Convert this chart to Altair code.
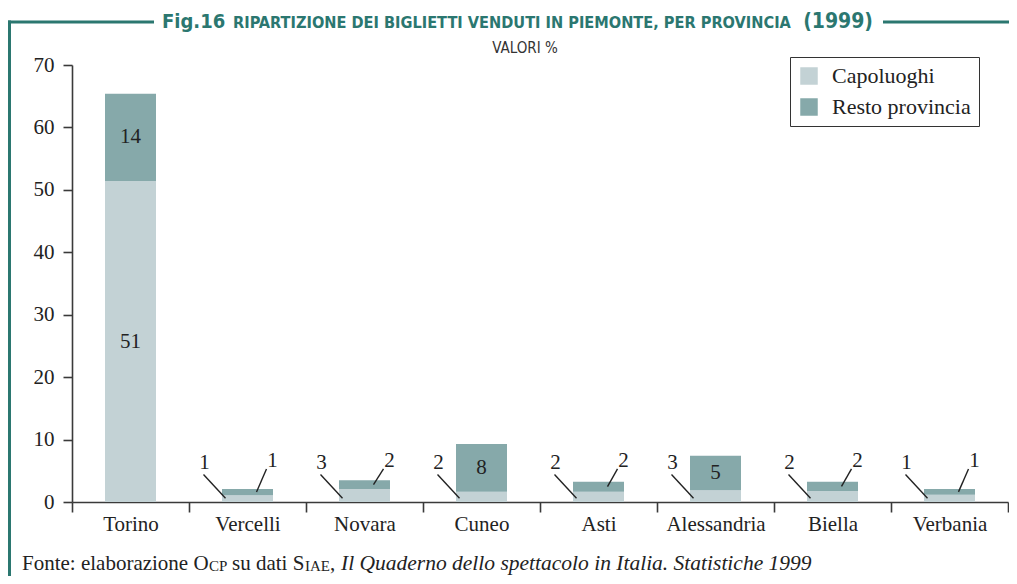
import json
import altair as alt
import pandas as pd

# ---- data ----
provinces = ["Torino", "Vercelli", "Novara", "Cuneo", "Asti", "Alessandria", "Biella", "Verbania"]
capoluoghi = [51.4, 1.1, 2.1, 1.65, 1.65, 1.9, 1.75, 1.15]
resto = [14.0, 1.0, 1.4, 7.65, 1.6, 5.5, 1.5, 0.95]
label_capoluoghi = ["51", "1", "3", "2", "2", "3", "2", "1"]
label_resto = ["14", "1", "2", "8", "2", "5", "2", "1"]
series = ["Capoluoghi", "Resto provincia"]
colors = ["#c3d2d5", "#86a9aa"]
y_ticks = [0, 10, 20, 30, 40, 50, 60, 70]

SERIF = "Liberation Serif, Times New Roman, serif"
COND = "DejaVu Sans Condensed, sans-serif"
TEAL = "#2b7770"
INK = "#222222"

W, H = 936, 437

rows = []
for i, p in enumerate(provinces):
    c, r = capoluoghi[i], resto[i]
    rows.append(dict(prov=p, pos=i + 0.5, serie=series[0], y0=0.0, y1=c,
                     mid=c / 2, label=label_capoluoghi[i], v=c))
    rows.append(dict(prov=p, pos=i + 0.5, serie=series[1], y0=c, y1=c + r,
                     mid=c + r / 2, label=label_resto[i], v=r))
df = pd.DataFrame(rows)

x_scale = alt.Scale(domain=[0, len(provinces)], nice=False, zero=False, padding=0)
y_scale = alt.Scale(domain=[0, 70], nice=False)

x_axis = alt.Axis(
    values=list(range(len(provinces) + 1)),
    labelExpr=json.dumps(provinces) + "[datum.value] || ''",
    labelOffset=W / len(provinces) / 2,
    labelFlush=False, labelOverlap=False, labelBound=False,
    tickSize=10, labelPadding=1, grid=False, title=None,
)
y_axis = alt.Axis(values=y_ticks, tickSize=9, labelPadding=9, grid=False, title=None)

base = alt.Chart(df)

bars = base.mark_bar(size=51).encode(
    x=alt.X("pos:Q", scale=x_scale, axis=x_axis),
    y=alt.Y("y1:Q", scale=y_scale, axis=y_axis),
    y2="y0:Q",
    color=alt.Color(
        "serie:N",
        scale=alt.Scale(domain=series, range=colors),
        legend=alt.Legend(
            orient="none", legendX=718, legendY=-8, title=None,
            strokeColor="#333333", fillColor="white", padding=8,
            symbolType="square", symbolSize=306, symbolStrokeWidth=0,
            symbolOpacity=1, labelFont=SERIF, labelFontSize=22,
            labelColor=INK, labelOffset=12, rowPadding=9, labelLimit=300,
        ),
    ),
)

txt = dict(font=SERIF, fontSize=21, color=INK)

inside = base.transform_filter("datum.v > 4").mark_text(**txt).encode(
    x="pos:Q", y="mid:Q", text="label:N")

left_sel = "datum.v <= 4 && datum.serie == 'Capoluoghi'"
right_sel = "datum.v <= 4 && datum.serie == 'Resto provincia'"

left = base.transform_filter(left_sel).transform_calculate(
    ly="6.3", la="4.4", lb="0.6")
left_lab = left.mark_text(dx=-43, **txt).encode(
    x="pos:Q", y="ly:Q", text="label:N")
left_line = left.mark_rule(
    xOffset=-44, x2Offset=-22, strokeWidth=1.4, color=INK).encode(
    x="pos:Q", x2="pos:Q", y="la:Q", y2="lb:Q")

right = base.transform_filter(right_sel).transform_calculate(
    ly="6.5", la="5.3")
right_lab = right.mark_text(dx=25, **txt).encode(
    x="pos:Q", y="ly:Q", text="label:N")
right_line = right.mark_rule(
    xOffset=19, x2Offset=9, strokeWidth=1.4, color=INK).encode(
    x="pos:Q", x2="pos:Q", y="la:Q", y2="mid:Q")

# ---- decorations: frame, titles, footer (pixel positions in plot coords) ----
one = pd.DataFrame({"a": [0]})
deco = alt.Chart(one)

LINE_Y = -43
frame_v = deco.mark_rule(color=TEAL, strokeWidth=3).encode(
    x=alt.value(-62.5), y=alt.value(LINE_Y - 1.5), y2=alt.value(530))
frame_l = deco.mark_rule(color=TEAL, strokeWidth=3).encode(
    x=alt.value(-64), x2=alt.value(82), y=alt.value(LINE_Y))
frame_r = deco.mark_rule(color=TEAL, strokeWidth=3).encode(
    x=alt.value(811), x2=alt.value(945), y=alt.value(LINE_Y))

TB = -37  # title baseline
t_fig = deco.mark_text(font=COND, fontSize=20, fontWeight="bold", color=TEAL,
                       align="left", baseline="alphabetic").encode(
    x=alt.value(90), y=alt.value(TB), text=alt.value("Fig.16"))
t_main = deco.mark_text(font=COND, fontSize=16.2, fontWeight="bold", color=TEAL,
                        align="left", baseline="alphabetic").encode(
    x=alt.value(161), y=alt.value(TB),
    text=alt.value("RIPARTIZIONE DEI BIGLIETTI VENDUTI IN PIEMONTE, PER PROVINCIA"))
t_year = deco.mark_text(font=COND, fontSize=21, fontWeight="bold", color=TEAL,
                        align="right", baseline="alphabetic").encode(
    x=alt.value(801), y=alt.value(TB), text=alt.value("(1999)"))
t_sub = deco.mark_text(font=COND, fontSize=15, color="#333333",
                       align="center", baseline="middle").encode(
    x=alt.value(453), y=alt.value(-17), text=alt.value("VALORI %"))

fy = 499
foot = dict(baseline="middle", align="left", color=INK)
f1 = deco.mark_text(font=SERIF, fontSize=21, **foot).encode(
    x=alt.value(-50), y=alt.value(fy), text=alt.value("Fonte: elaborazione O"))
f2 = deco.mark_text(font=SERIF, fontSize=15, **foot).encode(
    x=alt.value(137), y=alt.value(fy + 2), text=alt.value("CP"))
f3 = deco.mark_text(font=SERIF, fontSize=21, **foot).encode(
    x=alt.value(160), y=alt.value(fy), text=alt.value("su dati S"))
f4 = deco.mark_text(font=SERIF, fontSize=15, **foot).encode(
    x=alt.value(233), y=alt.value(fy + 2), text=alt.value("IAE"))
f5 = deco.mark_text(font=SERIF, fontSize=21, **foot).encode(
    x=alt.value(258), y=alt.value(fy), text=alt.value(","))
f6 = deco.mark_text(font=SERIF, fontSize=21.5, fontStyle="italic", **foot).encode(
    x=alt.value(269), y=alt.value(fy),
    text=alt.value("Il Quaderno dello spettacolo in Italia. Statistiche 1999"))

chart = alt.layer(
    bars, inside, left_line, left_lab, right_line, right_lab,
    frame_v, frame_l, frame_r, t_fig, t_main, t_year, t_sub,
    f1, f2, f3, f4, f5, f6,
).properties(
    width=W, height=H,
    autosize=alt.AutoSizeParams(type="none"),
    padding={"left": 64, "top": 57, "right": 1, "bottom": 74},
    background="white",
).configure_view(
    stroke=None
).configure_axis(
    labelFont=SERIF, labelFontSize=21, labelColor=INK,
    domainColor="#3a3a3a", tickColor="#3a3a3a",
    domainWidth=1.6, tickWidth=1.6,
)

chart.save("out.html", embed_options={"renderer": "svg", "actions": False})
